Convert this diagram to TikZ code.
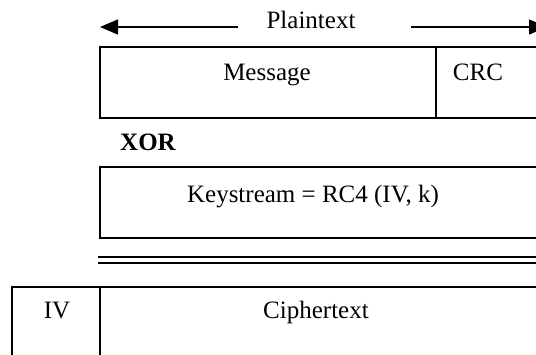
\documentclass[tikz,border=0pt]{standalone}
\usepackage{fontspec}
\setmainfont{Liberation Serif}
\usetikzlibrary{arrows.meta}
\begin{document}
\begin{tikzpicture}[x=1pt,y=-1pt,
  boxline/.style={draw=black,line width=2pt},
  lbl/.style={inner sep=0pt,anchor=base,font=\fontsize{25}{30}\selectfont},
  dimline/.style={line width=1.3pt,-{Triangle[length=18pt,width=15pt]}}]
\useasboundingbox (0,0) rectangle (536,354);
\clip (0,0) rectangle (536,354);
% top box
\draw[boxline] (100,47) rectangle (560,118);
\draw[boxline] (436,47) -- (436,118);
\node[lbl] (plain) at (311,28) {Plaintext};
\coordinate (la) at (238,27);
\coordinate (ltip) at (100,27);
\coordinate (ra) at (411,27);
\coordinate (rtip) at (547,27);
\draw[dimline] (la) -- (ltip);
\draw[dimline] (ra) -- (rtip);
\node[lbl] (msg) at (267,80) {Message};
\node[lbl] (crc) at (478,80) {CRC};
% XOR
\node[lbl,font=\fontsize{25}{30}\selectfont\bfseries] (xor) at (148,150) {XOR};
% keystream
\draw[boxline] (100,167) rectangle (560,238);
\node[lbl] (ks) at (313,202) {Keystream = RC4 (IV, k)};
% double line
\draw[line width=2pt] (98,257) -- (560,257);
\draw[line width=2pt] (98,262.5) -- (560,262.5);
% bottom box
\draw[boxline] (12,287) rectangle (560,380);
\draw[boxline] (100,287) -- (100,380);
\node[lbl] (iv) at (57,318) {IV};
\node[lbl] (ct) at (316,318) {Ciphertext};
\end{tikzpicture}
\end{document}
